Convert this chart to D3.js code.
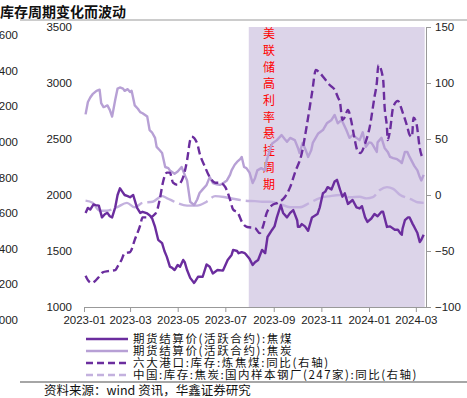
<!DOCTYPE html>
<html>
<head>
<meta charset="utf-8">
<script src="https://cdn.jsdelivr.net/npm/d3@7"></script>
<style>
  body { margin: 0; background: #fff; }
  svg { display: block; font-family: "Liberation Sans", Arial, sans-serif; }
  .cjk { font-family: "Noto Sans CJK SC", sans-serif; }
</style>
</head>
<body>
<div id="chart"></div>
<script>
// ---- data ----
// 期货结算价(活跃合约):焦煤, left axis
const cokingCoal = [
  ["2023-01-03",1840],["2023-01-06",1885],["2023-01-09",1870],["2023-01-13",1915],["2023-01-16",1910],
  ["2023-01-20",1905],["2023-01-24",1800],["2023-01-28",1830],["2023-01-31",1840],["2023-02-03",1810],
  ["2023-02-06",1800],["2023-02-10",1890],["2023-02-13",2000],["2023-02-16",2060],["2023-02-19",2030],
  ["2023-02-22",2000],["2023-02-26",1990],["2023-03-01",1980],["2023-03-05",2000],["2023-03-08",1930],
  ["2023-03-10",1885],["2023-03-14",1840],["2023-03-17",1850],["2023-03-23",1835],["2023-03-26",1820],
  ["2023-03-29",1795],["2023-04-02",1715],["2023-04-06",1600],["2023-04-11",1570],["2023-04-14",1500],
  ["2023-04-17",1450],["2023-04-21",1360],["2023-04-24",1350],["2023-04-27",1330],["2023-05-01",1375],
  ["2023-05-04",1360],["2023-05-08",1420],["2023-05-10",1400],["2023-05-13",1330],["2023-05-17",1260],
  ["2023-05-22",1215],["2023-05-23",1225],["2023-05-27",1270],["2023-06-02",1270],["2023-06-07",1380],
  ["2023-06-11",1360],["2023-06-15",1300],["2023-06-21",1330],["2023-06-28",1325],["2023-07-04",1420],
  ["2023-07-09",1465],["2023-07-11",1510],["2023-07-16",1500],["2023-07-18",1480],["2023-07-22",1490],
  ["2023-07-26",1480],["2023-07-28",1465],["2023-08-01",1430],["2023-08-05",1375],["2023-08-08",1400],
  ["2023-08-12",1420],["2023-08-17",1510],["2023-08-21",1480],["2023-08-24",1625],["2023-08-30",1690],
  ["2023-09-02",1720],["2023-09-05",1800],["2023-09-10",1910],["2023-09-13",1840],["2023-09-18",1800],
  ["2023-09-22",1840],["2023-09-26",1865],["2023-10-01",1775],["2023-10-02",1715],["2023-10-04",1715],
  ["2023-10-07",1740],["2023-10-11",1720],["2023-10-15",1680],["2023-10-20",1800],["2023-10-27",1830],
  ["2023-10-30",1890],["2023-11-03",2015],["2023-11-06",2030],["2023-11-09",2070],["2023-11-14",2050],
  ["2023-11-18",2120],["2023-11-21",2135],["2023-11-25",2045],["2023-11-28",1985],["2023-12-01",2015],
  ["2023-12-05",1920],["2023-12-11",1955],["2023-12-16",1890],["2023-12-20",1880],["2023-12-23",1900],
  ["2023-12-27",1800],["2023-12-30",1760],["2024-01-04",1790],["2024-01-08",1830],["2024-01-12",1810],
  ["2024-01-17",1850],["2024-01-19",1850],["2024-01-24",1715],["2024-01-28",1720],["2024-02-03",1690],
  ["2024-02-07",1690],["2024-02-10",1660],["2024-02-12",1645],["2024-02-13",1700],["2024-02-16",1775],
  ["2024-02-20",1800],["2024-02-22",1800],["2024-02-26",1740],["2024-02-28",1715],["2024-03-03",1660],
  ["2024-03-06",1580],["2024-03-08",1600],["2024-03-11",1645]
];

// 期货结算价(活跃合约):焦炭, left axis
const coke = [
  ["2023-01-03",2720],["2023-01-06",2830],["2023-01-09",2870],["2023-01-12",2900],["2023-01-17",2930],
  ["2023-01-21",2940],["2023-01-23",2820],["2023-01-26",2785],["2023-01-28",2790],["2023-01-31",2800],
  ["2023-02-03",2760],["2023-02-06",2700],["2023-02-10",2850],["2023-02-13",2950],["2023-02-16",2960],
  ["2023-02-20",2950],["2023-02-22",2930],["2023-02-26",2945],["2023-03-01",2920],["2023-03-03",2930],
  ["2023-03-07",2800],["2023-03-11",2770],["2023-03-14",2740],["2023-03-17",2730],["2023-03-23",2700],
  ["2023-03-26",2580],["2023-03-29",2560],["2023-04-02",2510],["2023-04-04",2430],["2023-04-08",2400],
  ["2023-04-11",2375],["2023-04-15",2250],["2023-04-19",2240],["2023-04-21",2220],["2023-04-27",2190],
  ["2023-05-01",2210],["2023-05-06",2250],["2023-05-10",2180],["2023-05-13",2130],["2023-05-17",1940],
  ["2023-05-22",1910],["2023-05-26",1960],["2023-05-29",2018],["2023-06-02",2050],["2023-06-07",2090],
  ["2023-06-11",2160],["2023-06-15",2107],["2023-06-20",2095],["2023-06-24",2090],["2023-06-29",2110],
  ["2023-07-03",2130],["2023-07-07",2180],["2023-07-09",2220],["2023-07-13",2270],["2023-07-16",2295],
  ["2023-07-20",2320],["2023-07-22",2340],["2023-07-25",2250],["2023-07-28",2240],["2023-08-01",2200],
  ["2023-08-05",2107],["2023-08-08",2150],["2023-08-11",2220],["2023-08-16",2240],["2023-08-21",2220],
  ["2023-08-23",2310],["2023-08-27",2400],["2023-08-30",2460],["2023-09-05",2490],["2023-09-11",2535],
  ["2023-09-15",2500],["2023-09-18",2475],["2023-09-22",2510],["2023-09-28",2490],["2023-10-02",2420],
  ["2023-10-04",2375],["2023-10-08",2465],["2023-10-12",2400],["2023-10-15",2340],["2023-10-19",2400],
  ["2023-10-21",2465],["2023-10-28",2550],["2023-11-03",2580],["2023-11-08",2640],["2023-11-14",2670],
  ["2023-11-18",2715],["2023-11-22",2640],["2023-11-27",2670],["2023-12-03",2580],["2023-12-07",2510],
  ["2023-12-11",2535],["2023-12-16",2510],["2023-12-20",2490],["2023-12-24",2560],["2023-12-28",2430],
  ["2024-01-01",2470],["2024-01-04",2465],["2024-01-06",2445],["2024-01-11",2385],["2024-01-12",2470],
  ["2024-01-17",2510],["2024-01-21",2420],["2024-01-25",2385],["2024-01-28",2340],["2024-02-01",2330],
  ["2024-02-06",2320],["2024-02-10",2300],["2024-02-12",2285],["2024-02-16",2385],["2024-02-19",2385],
  ["2024-02-22",2340],["2024-02-25",2300],["2024-02-28",2260],["2024-03-03",2220],["2024-03-06",2160],
  ["2024-03-08",2130],["2024-03-11",2180]
];

// 六大港口:库存:炼焦煤:同比, right axis (%)
const portStockYoY = [
  ["2023-01-03",-72],["2023-01-06",-76],["2023-01-11",-78.6],["2023-01-15",-77],["2023-01-19",-74],
  ["2023-01-25",-69],["2023-02-01",-68],["2023-02-10",-67],["2023-02-13",-64],["2023-02-18",-58],
  ["2023-02-22",-52],["2023-03-01",-51],["2023-03-07",-40],["2023-03-14",-27],["2023-03-17",-20],
  ["2023-03-26",-20],["2023-04-02",-17],["2023-04-04",-15],["2023-04-08",-4],["2023-04-12",11],
  ["2023-04-17",20],["2023-04-21",20],["2023-04-25",11],["2023-05-01",9],["2023-05-08",16],
  ["2023-05-13",31],["2023-05-17",49],["2023-05-19",52],["2023-05-26",46],["2023-05-29",37.5],
  ["2023-06-05",25],["2023-06-11",16],["2023-06-18",11],["2023-06-24",11],["2023-07-01",7],
  ["2023-07-07",-4],["2023-07-11",-13],["2023-07-17",-16],["2023-07-23",-25],["2023-07-29",-28.6],
  ["2023-08-08",-29.5],["2023-08-14",-34],["2023-08-18",-28.6],["2023-08-23",-16],["2023-08-30",-9],
  ["2023-09-06",-7],["2023-09-15",-2],["2023-09-22",7],["2023-09-28",19.6],["2023-10-07",37.5],
  ["2023-10-13",60.7],["2023-10-20",91],["2023-10-25",111.6],["2023-10-30",109],["2023-11-05",104],
  ["2023-11-12",98],["2023-11-18",94],["2023-11-22",87.5],["2023-11-25",82],["2023-11-28",67],
  ["2023-12-01",69.6],["2023-12-05",76],["2023-12-09",67],["2023-12-13",52],["2023-12-17",40],
  ["2023-12-21",37.5],["2023-12-27",46],["2024-01-02",61],["2024-01-08",87.5],["2024-01-11",100],
  ["2024-01-13",116],["2024-01-19",104],["2024-01-21",78.6],["2024-01-24",60],["2024-01-25",49],
  ["2024-01-28",58],["2024-02-01",78.6],["2024-02-07",84],["2024-02-13",74],["2024-02-19",61],
  ["2024-02-22",53.6],["2024-02-25",52],["2024-02-27",69],["2024-03-02",63],["2024-03-06",42],
  ["2024-03-08",36],["2024-03-11",32]
];

// 中国:库存:焦炭:国内样本钢厂(247家):同比, right axis (%)
const millCokeYoY = [
  ["2023-01-03",-5],["2023-01-12",-7],["2023-01-21",-14],["2023-01-30",-14],["2023-02-12",-11],
  ["2023-02-25",-7],["2023-03-07",-11],["2023-03-17",-7],["2023-03-30",-6],["2023-04-11",-1],
  ["2023-04-17",-2.7],["2023-04-30",-7],["2023-05-13",-9.5],["2023-05-26",-9.5],["2023-06-07",-6],
  ["2023-06-18",-1],["2023-07-01",-2],["2023-07-13",-3.6],["2023-07-26",-5],["2023-08-08",-5.5],
  ["2023-08-17",-6],["2023-08-27",-6],["2023-09-09",-8],["2023-09-22",-11],["2023-10-04",-11],
  ["2023-10-17",-7],["2023-10-30",-2.7],["2023-11-12",-1],["2023-11-25",0],["2023-12-08",-2],
  ["2023-12-20",-1.5],["2023-12-29",-3],["2024-01-06",-2],["2024-01-15",4.5],["2024-01-24",7],
  ["2024-02-01",5.5],["2024-02-10",0],["2024-02-19",-2.7],["2024-02-26",-4.5],["2024-03-03",-6.5],
  ["2024-03-11",-7]
];

const fedShade = ["2023-07-31", "2024-03-11"];
const shadeNote = "美联储高利率悬挂周期";
const leftTicks = [1000, 1500, 2000, 2500, 3000, 3500];
const rightTicks = [-100, -50, 0, 50, 100, 150];
// what shows of the next chart's axis at the left edge
const neighbourTicks = ["600", "400", "200", "000", "800", "600", "400", "200", "000"];
const legendLabels = [
  "期货结算价(活跃合约):焦煤",
  "期货结算价(活跃合约):焦炭",
  "六大港口:库存:炼焦煤:同比(右轴)",
  "中国:库存:焦炭:国内样本钢厂(247家):同比(右轴)"
];
const titleText = "库存周期变化而波动";
const sourceText = "资料来源：wind 资讯，华鑫证券研究";

// ---- layout ----
const W = 467, H = 398;
const plot = { left: 84, right: 426, top: 27, bottom: 307 };
const parse = d3.timeParse("%Y-%m-%d");
const darkPurple = "#6b2d9e", lightPurple = "#b7a0d5", lightDash = "#c3b1de";

const svg = d3.select("#chart").append("svg").attr("width", W).attr("height", H);

const x = d3.scaleTime()
  .domain([parse("2023-01-01"), parse("2024-03-14")])
  .range([plot.left, plot.right]);
const yL = d3.scaleLinear().domain([1000, 3500]).range([plot.bottom, plot.top]);
const yR = d3.scaleLinear().domain([-100, 150]).range([plot.bottom, plot.top]);

// title strip
svg.append("text").attr("class", "cjk")
  .attr("x", 0).attr("y", 16.5)
  .style("font-size", "14px").style("font-weight", 700).attr("fill", "#111")
  .text(titleText);
svg.append("line").attr("x1", 20).attr("x2", W).attr("y1", 20).attr("y2", 20)
  .attr("stroke", "#999").attr("stroke-width", 1);

// neighbouring chart's axis labels at the left edge
const yN = d3.scalePoint().domain(d3.range(neighbourTicks.length)).range([35, 320]);
svg.append("g").selectAll("text").data(neighbourTicks).join("text")
  .attr("x", 18).attr("y", (d, i) => yN(i)).attr("dy", "0.35em")
  .attr("text-anchor", "end").style("font-size", "11.5px").attr("fill", "#222")
  .text((d) => d);

// shaded period
svg.append("rect")
  .attr("x", x(parse(fedShade[0])))
  .attr("y", plot.top)
  .attr("width", x(parse(fedShade[1])) - x(parse(fedShade[0])) + 1)
  .attr("height", plot.bottom - plot.top)
  .attr("fill", "#dcd4e9");

// vertical red note
svg.append("g").attr("class", "cjk").selectAll("text")
  .data(Array.from(shadeNote)).join("text")
  .attr("x", 269).attr("y", (d, i) => 34 + i * 16.7).attr("dy", "0.35em")
  .attr("text-anchor", "middle").style("font-size", "12px").attr("fill", "#ff0000")
  .text((d) => d);

// axes
const xAxis = svg.append("g")
  .attr("transform", `translate(0,${plot.bottom})`)
  .call(d3.axisBottom(x).ticks(d3.timeMonth.every(2)).tickFormat(d3.timeFormat("%Y-%m"))
    .tickSize(5).tickSizeOuter(0).tickPadding(4));
xAxis.select(".domain").attr("stroke", "#999");
xAxis.selectAll(".tick line").attr("stroke", "#999");
xAxis.selectAll("text").style("font-size", "11.5px").attr("fill", "#222");

const leftAxis = svg.append("g")
  .attr("transform", `translate(${plot.left},0)`)
  .call(d3.axisLeft(yL).tickValues(leftTicks).tickFormat(d3.format("d")).tickSize(0).tickPadding(12));
leftAxis.select(".domain").remove();
leftAxis.selectAll("text").style("font-size", "11.5px").attr("fill", "#222");

const rightAxis = svg.append("g")
  .attr("transform", `translate(${plot.right},0)`)
  .call(d3.axisRight(yR).tickValues(rightTicks).tickSize(5).tickSizeOuter(0).tickPadding(4));
rightAxis.select(".domain").attr("stroke", "#999");
rightAxis.selectAll(".tick line").attr("stroke", "#999");
rightAxis.selectAll("text").style("font-size", "11.5px").attr("fill", "#222");

// lines
const lineL = d3.line().x((d) => x(parse(d[0]))).y((d) => yL(d[1]));
const lineR = d3.line().x((d) => x(parse(d[0]))).y((d) => yR(d[1])).curve(d3.curveMonotoneX);

svg.append("path").datum(millCokeYoY).attr("d", lineR)
  .attr("fill", "none").attr("stroke", lightDash).attr("stroke-width", 2.4)
  .attr("stroke-dasharray", "30,5");
svg.append("path").datum(coke).attr("d", lineL)
  .attr("fill", "none").attr("stroke", lightPurple).attr("stroke-width", 2.4)
  .attr("stroke-linejoin", "round");
svg.append("path").datum(portStockYoY).attr("d", lineR)
  .attr("fill", "none").attr("stroke", darkPurple).attr("stroke-width", 2.4)
  .attr("stroke-dasharray", "8,4");
svg.append("path").datum(cokingCoal).attr("d", lineL)
  .attr("fill", "none").attr("stroke", darkPurple).attr("stroke-width", 2.4)
  .attr("stroke-linejoin", "round");

// legend: swatches + one text block with a row per series
const legendStyles = [
  { color: darkPurple, dash: null },
  { color: lightPurple, dash: null },
  { color: darkPurple, dash: "7,4" },
  { color: lightDash, dash: "7,4" }
];
const legendY = [339, 351, 363, 375];
const legendWidth = [160, 160, 197, 285];
svg.append("g").selectAll("line").data(legendStyles).join("line")
  .attr("x1", 86).attr("x2", 128)
  .attr("y1", (d, i) => legendY[i]).attr("y2", (d, i) => legendY[i])
  .attr("stroke", (d) => d.color).attr("stroke-width", 2.6)
  .attr("stroke-dasharray", (d) => d.dash);
const legendText = svg.append("text").attr("class", "cjk")
  .style("font-size", "11.5px").attr("fill", "#111");
legendText.selectAll("tspan").data(legendLabels).join("tspan")
  .attr("x", 133).attr("y", (d, i) => legendY[i] + 4)
  .text((d) => d)
  .each(function (d, i) {
    const len = this.getComputedTextLength();
    const n = Array.from(d).length;
    this.setAttribute("letter-spacing", ((legendWidth[i] - len) / n).toFixed(2));
  });

// footer
svg.append("line").attr("x1", 20).attr("x2", W).attr("y1", 382).attr("y2", 382)
  .attr("stroke", "#888").attr("stroke-width", 1.5);
svg.append("text").attr("class", "cjk")
  .attr("x", 44).attr("y", 391).attr("dy", "0.35em")
  .style("font-size", "12.5px").attr("fill", "#111")
  .text(sourceText);
</script>
</body>
</html>
